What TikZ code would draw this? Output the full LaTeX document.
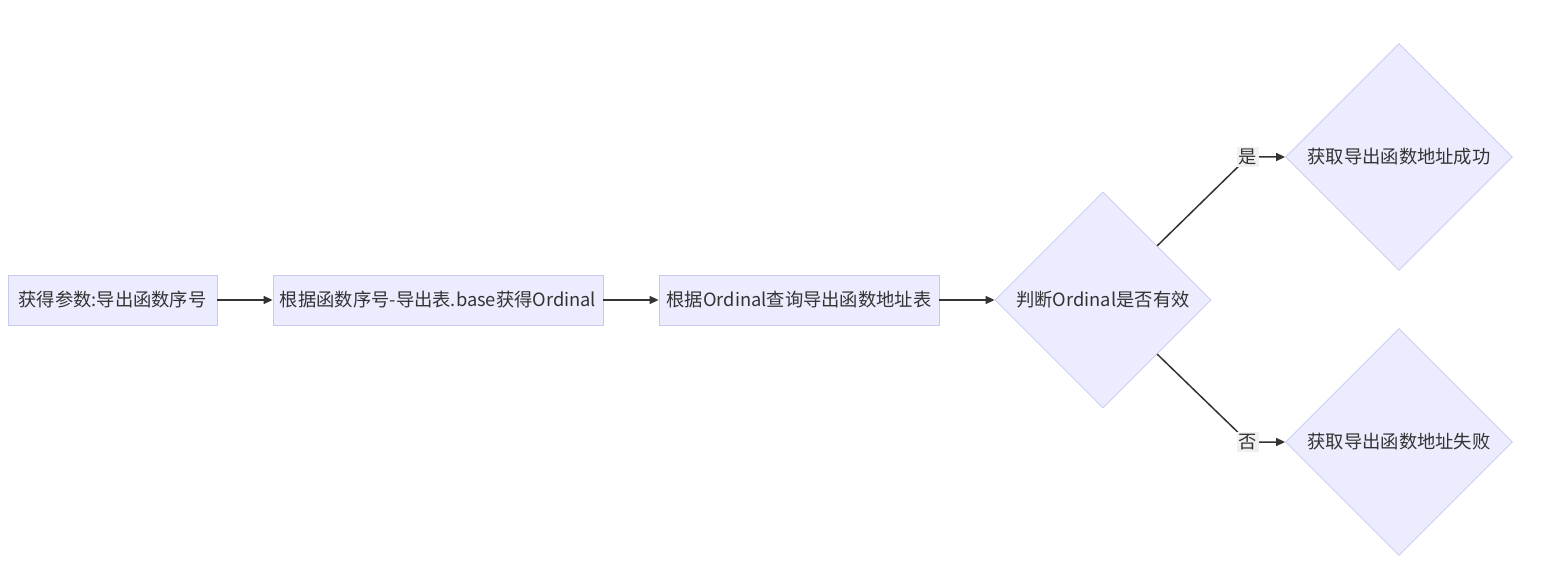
\documentclass[tikz,border=0pt]{standalone}
\usepackage{fontspec}
\setmainfont{Noto Sans CJK SC}
\usetikzlibrary{shapes.geometric,arrows.meta}
\definecolor{boxfill}{HTML}{ECECFF}
\definecolor{boxline}{HTML}{C8C8F0}
\definecolor{ink}{HTML}{333333}
\definecolor{lblfill}{HTML}{F0F0F0}

\begin{document}
\begin{tikzpicture}[
    x=1pt, y=-1pt,
    every node/.style={text=ink,font=\fontsize{18.3}{21}\selectfont},
    stepbox/.style={draw=boxline,fill=boxfill,line width=0.8pt,minimum height=50pt,inner xsep=4pt,inner ysep=0pt},
    decide/.style={diamond,aspect=1,draw=boxline,fill=boxfill,line width=0.8pt,inner sep=0pt,minimum size=216pt},
    result/.style={decide,minimum size=227pt},
    lbl/.style={fill=lblfill,inner sep=2pt},
    flow/.style={draw=ink,line width=1.5pt,-{Triangle[length=9pt,width=8pt]}}
]
\useasboundingbox (0,0) rectangle (1543,572);

\node[stepbox,minimum width=209pt] (param) at (112.5,300) {获得参数:导出函数序号};
\node[stepbox,minimum width=330pt] (ordinal) at (438,300) {根据函数序号-导出表.base获得Ordinal};
\node[stepbox,minimum width=280pt] (lookup) at (799,300) {根据Ordinal查询导出函数地址表};
\node[decide] (check) at (1103,300) {判断Ordinal是否有效};
\node[result] (ok) at (1399,157) {获取导出函数地址成功};
\node[result] (fail) at (1399,442) {获取导出函数地址失败};

\coordinate (yesPt) at (1248,157);
\coordinate (noPt) at (1248,442);

\draw[flow] (param) -- (ordinal);
\draw[flow] (ordinal) -- (lookup);
\draw[flow] (lookup) -- (check);
\draw[flow] (check.north east) -- (yesPt) -- (ok);
\draw[flow] (check.south east) -- (noPt) -- (fail);

\node[lbl] (yes) at (yesPt) {是};
\node[lbl] (no) at (noPt) {否};
\end{tikzpicture}
\end{document}
